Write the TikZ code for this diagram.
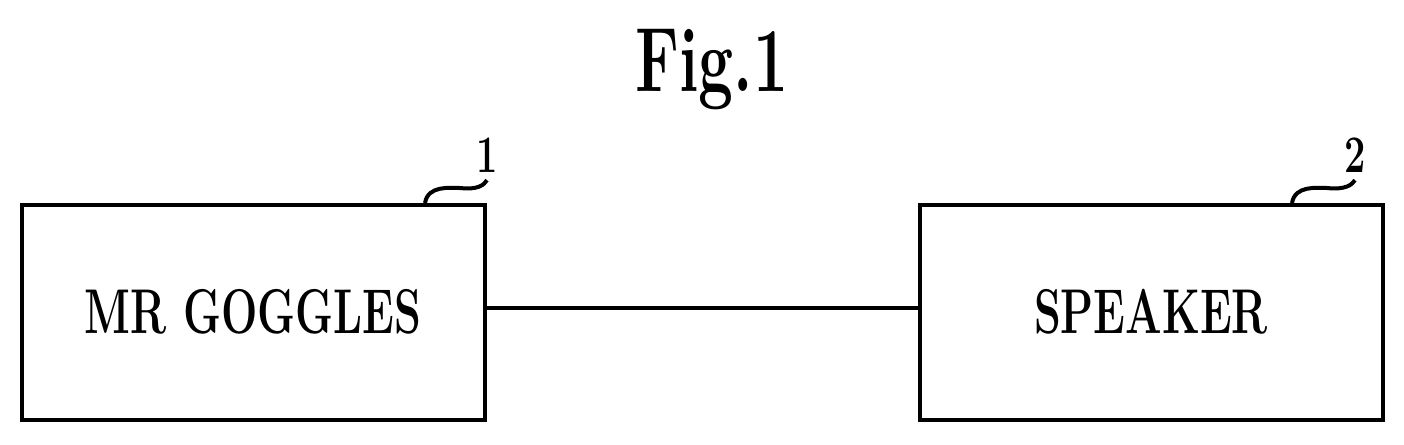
\documentclass[tikz,border=0pt]{standalone}
\begin{document}
\begin{tikzpicture}[x=0.02cm,y=-0.02cm,line width=4*0.02cm,
  box/.style={draw,line width=3pt*0.7,minimum width=463*0.02cm,minimum height=215*0.02cm,inner sep=0pt},
  lbl/.style={font=\fontsize{36}{36}\selectfont\bfseries,xscale=0.68}]
\useasboundingbox (0,0) rectangle (1404,444);
\node[box] (a) at (253.5,312.5) {};
\node[box] (b) at (1151.5,312.5) {};
\node[lbl] at (253,312) {MR GOGGLES};
\node[lbl] at (1151,312) {SPEAKER};
\node[font=\fontsize{52}{52}\selectfont\bfseries,xscale=0.68] (t) at (712,70) {Fig.1};
\node[font=\fontsize{30}{30}\selectfont\bfseries,xscale=0.72] (n1) at (487,155) {1};
\node[font=\fontsize{30}{30}\selectfont\bfseries,xscale=0.72] (n2) at (1355,155) {2};
\draw ([yshift=5*0.02cm]a.east) -- ([yshift=5*0.02cm]b.west);
\coordinate (c1) at (425,203);
\coordinate (c2) at (1292,203);
\draw (c1) .. controls (428,185) and (450,188) .. (460,188) .. controls (478,190) and (484,185) .. (n1.south);
\draw (c2) .. controls (1295,185) and (1317,188) .. (1327,188) .. controls (1345,190) and (1352,185) .. (n2.south);
\end{tikzpicture}
\end{document}
